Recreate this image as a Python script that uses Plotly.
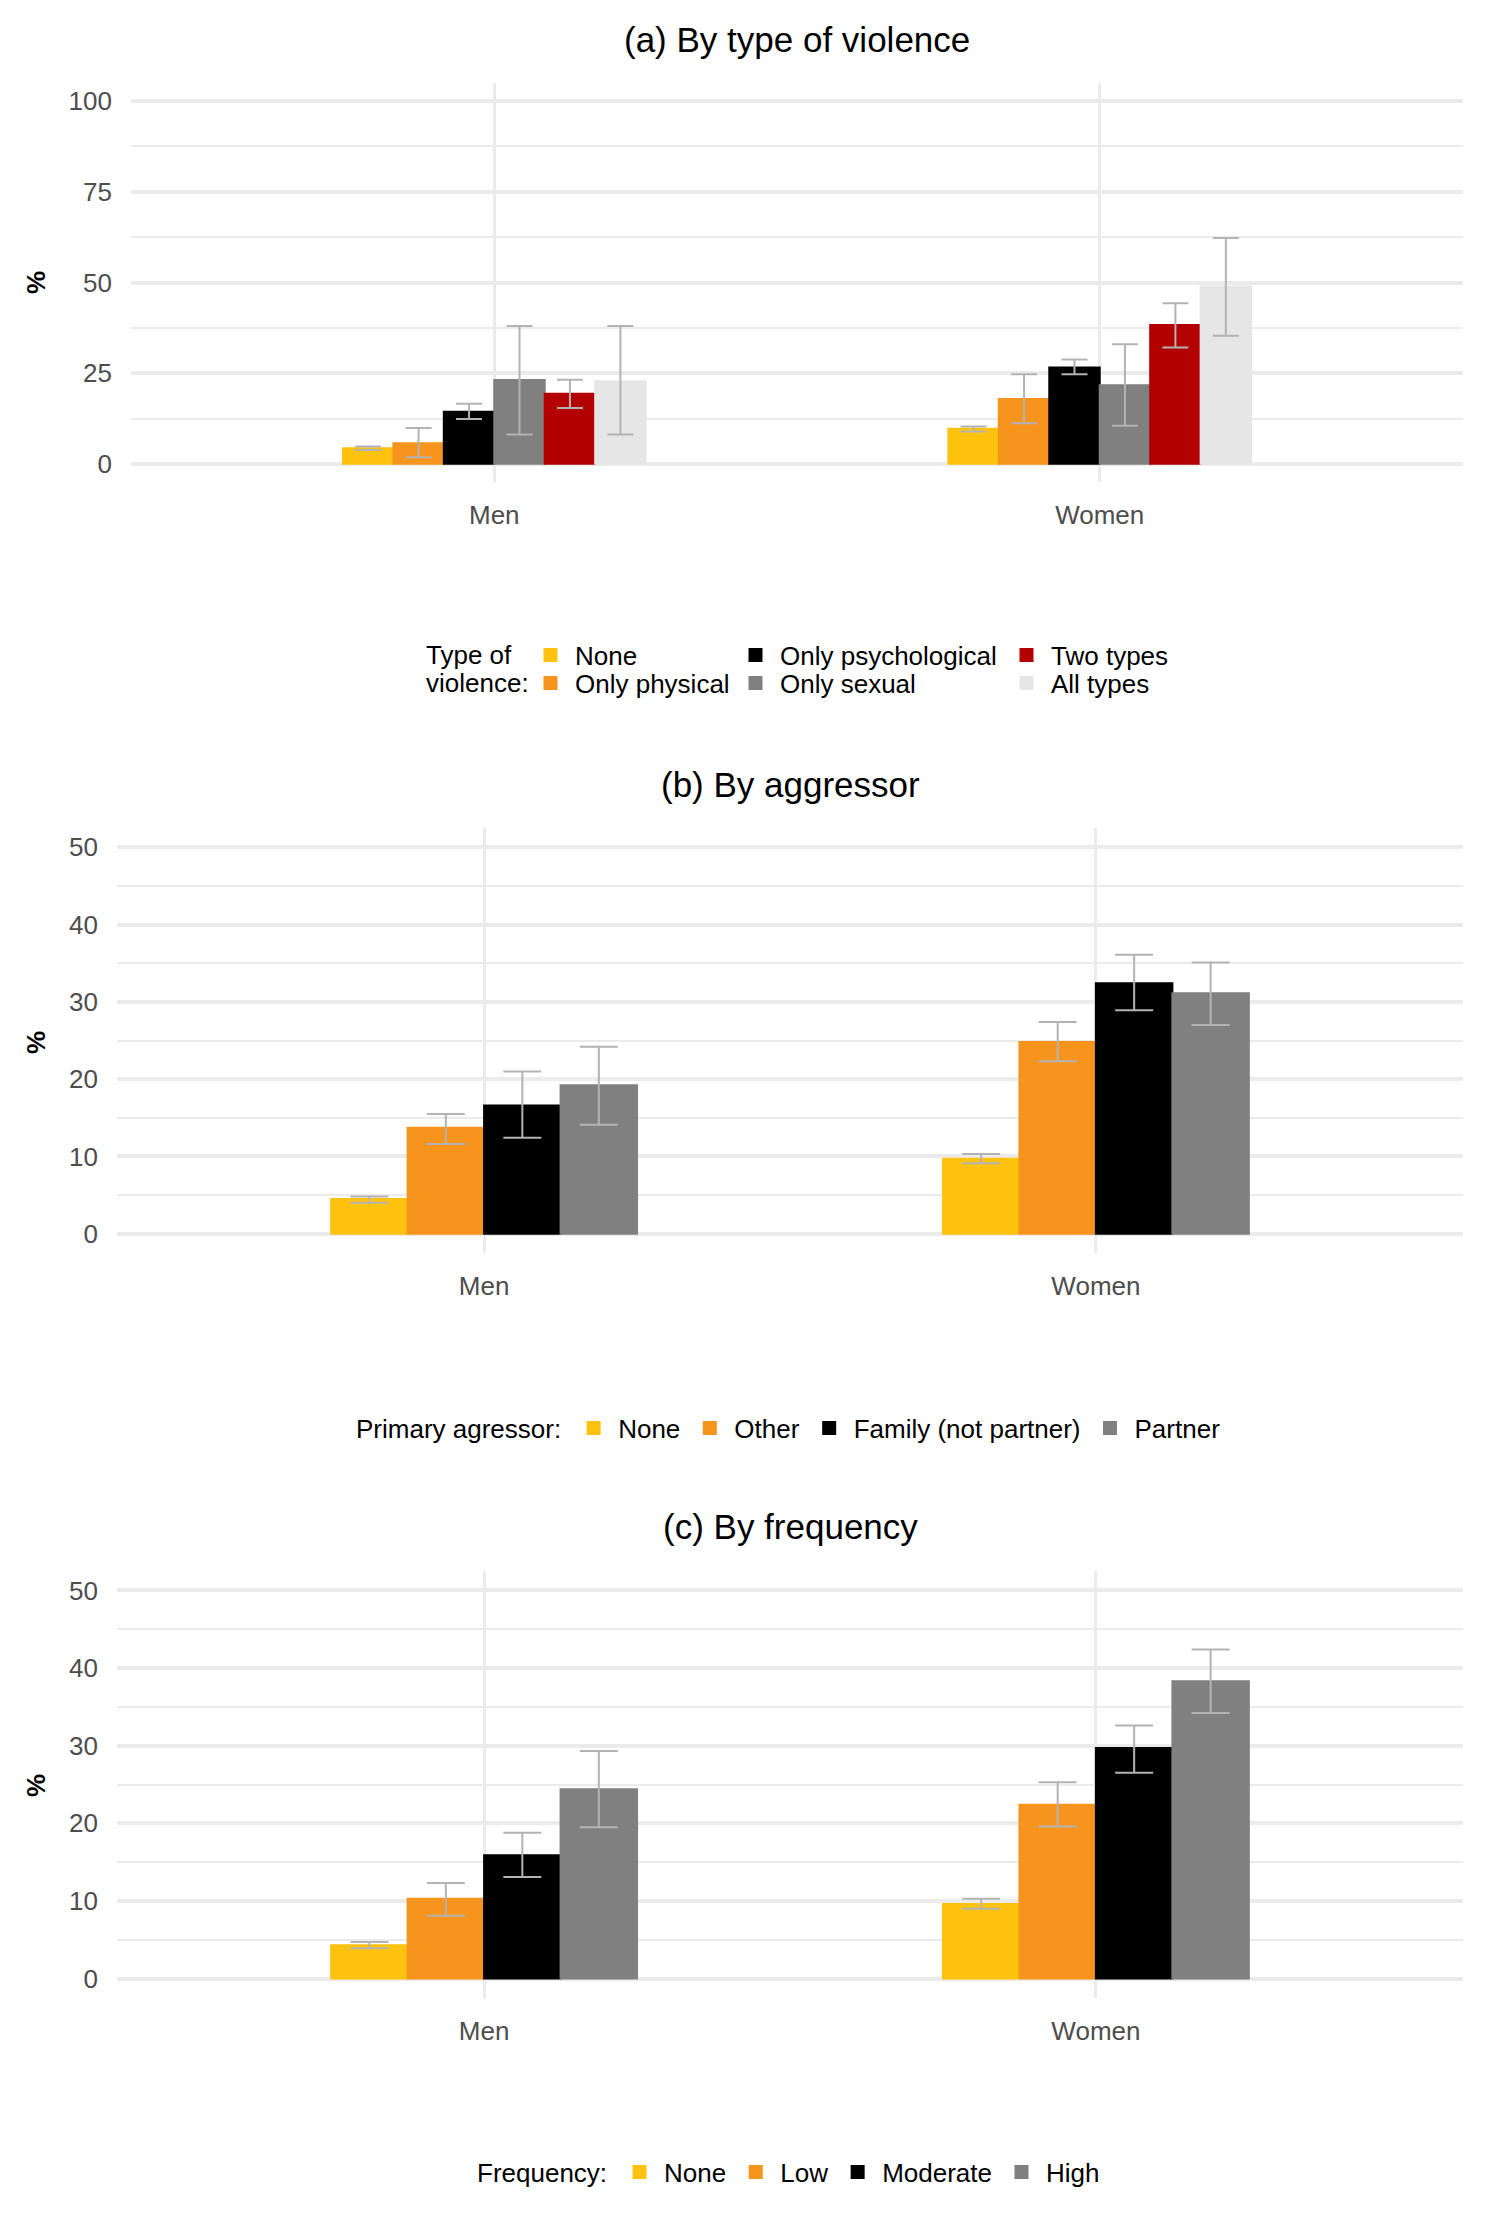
import plotly.graph_objects as go

W, H = 1489, 2232
FONT = "Liberation Sans, Arial, sans-serif"

groups = ["Men", "Women"]

# ---------- Panel (a): by type of violence ----------
a_types = ["None", "Only physical", "Only psychological", "Only sexual", "Two types", "All types"]
a_colors = ["#FFC20E", "#F7941D", "#000000", "#808080", "#B30000", "#E6E6E6"]
a_men_val = [4.3, 5.7, 14.4, 23.1, 19.3, 22.8]
a_men_lo = [3.8, 1.8, 12.4, 8.1, 15.4, 8.1]
a_men_hi = [4.8, 9.9, 16.6, 38.0, 23.2, 38.0]
a_women_val = [9.7, 17.9, 26.6, 21.7, 38.3, 48.9]
a_women_lo = [8.9, 11.2, 24.7, 10.5, 32.1, 35.3]
a_women_hi = [10.3, 24.7, 28.8, 33.0, 44.3, 62.3]
a_yticks = [0, 25, 50, 75, 100]

# ---------- Panel (b): by aggressor ----------
b_types = ["None", "Other", "Family (not partner)", "Partner"]
b_colors = ["#FFC20E", "#F7941D", "#000000", "#808080"]
b_men_val = [4.5, 13.7, 16.6, 19.2]
b_men_lo = [4.0, 11.6, 12.4, 14.1]
b_men_hi = [4.8, 15.5, 21.0, 24.2]
b_women_val = [9.7, 24.8, 32.4, 31.1]
b_women_lo = [9.1, 22.3, 28.9, 27.0]
b_women_hi = [10.3, 27.4, 36.1, 35.1]

# ---------- Panel (c): by frequency ----------
c_types = ["None", "Low", "Moderate", "High"]
c_colors = ["#FFC20E", "#F7941D", "#000000", "#808080"]
c_men_val = [4.3, 10.3, 15.9, 24.4]
c_men_lo = [3.9, 8.1, 13.1, 19.5]
c_men_hi = [4.7, 12.3, 18.8, 29.3]
c_women_val = [9.6, 22.4, 29.7, 38.3]
c_women_lo = [9.0, 19.6, 26.5, 34.2]
c_women_hi = [10.3, 25.3, 32.6, 42.4]
bc_yticks = [0, 10, 20, 30, 40, 50]

ERR = "#B3B3B3"
GRID = "#EBEBEB"
TICK = "#4D4D4D"
ITEMW = 39


def px_x(p):
    return p / W


def px_y(p):
    return 1 - p / H


fig = go.Figure()


def add_panel(types, colors, mv, mlo, mhi, wv, wlo, whi, xa, ya, legends, capw):
    for i, name in enumerate(types):
        vals = [mv[i], wv[i]]
        hi = [mhi[i] - mv[i], whi[i] - wv[i]]
        lo = [mv[i] - mlo[i], wv[i] - wlo[i]]
        fig.add_trace(go.Bar(
            x=groups, y=vals, name=name,
            marker=dict(color=colors[i], line=dict(width=2, color=colors[i])),
            error_y=dict(type="data", symmetric=False, array=hi, arrayminus=lo,
                         color=ERR, thickness=2, width=capw),
            xaxis=xa, yaxis=ya, legend=legends[i], showlegend=True,
            hoverinfo="x+y+name",
        ))


add_panel(a_types, a_colors, a_men_val, a_men_lo, a_men_hi,
          a_women_val, a_women_lo, a_women_hi, "x", "y",
          ["legend", "legend2", "legend3", "legend4", "legend5", "legend6"], 13)
add_panel(b_types, b_colors, b_men_val, b_men_lo, b_men_hi,
          b_women_val, b_women_lo, b_women_hi, "x2", "y2",
          ["legend7"] * 4, 19)
add_panel(c_types, c_colors, c_men_val, c_men_lo, c_men_hi,
          c_women_val, c_women_lo, c_women_hi, "x3", "y3",
          ["legend8"] * 4, 19)

panels = [
    # (x0, x1, y_top, y_bottom, yrange, ticks, minor ticks)
    (131, 1463, 83, 482, [-5, 105], a_yticks, [12.5, 37.5, 62.5, 87.5]),
    (117, 1463, 828, 1253, [-2.5, 52.5], bc_yticks, [5, 15, 25, 35, 45]),
    (117, 1463, 1571, 1998, [-2.5, 52.5], bc_yticks, [5, 15, 25, 35, 45]),
]

layout = dict(
    width=W, height=H, autosize=False,
    margin=dict(l=0, r=0, t=0, b=0),
    paper_bgcolor="white", plot_bgcolor="white",
    font=dict(family=FONT, size=26, color="black"),
    barmode="group", bargap=0.5, bargroupgap=0,
    showlegend=True,
)

for k, (x0, x1, yt, yb, yr, tv, mv) in enumerate(panels):
    sfx = "" if k == 0 else str(k + 1)
    layout["xaxis" + sfx] = dict(
        domain=[px_x(x0), px_x(x1)], anchor="y" + sfx,
        type="category", range=[-0.6, 1.6],
        showgrid=True, gridcolor=GRID, gridwidth=3,
        zeroline=False, showline=False, ticks="",
        tickfont=dict(size=26, color=TICK, family=FONT),
        ticklabelstandoff=15, fixedrange=True,
    )
    layout["yaxis" + sfx] = dict(
        domain=[px_y(yb), px_y(yt)], anchor="x" + sfx,
        range=yr, tickmode="array", tickvals=tv,
        showgrid=True, gridcolor=GRID, gridwidth=3.5,
        minor=dict(tickmode="array", tickvals=mv, showgrid=True,
                   gridcolor=GRID, gridwidth=2, ticks=""),
        zeroline=False, showline=False, ticks="",
        tickfont=dict(size=26, color=TICK, family=FONT),
        ticklabelstandoff=18, fixedrange=True,
    )

# Legends for panel (a): six single-entry legends laid out in 2 rows x 3 columns
a_leg_pos = [(526, 655), (526, 683), (731, 655), (731, 683), (1002, 655), (1002, 683)]
for i, (lx, ly) in enumerate(a_leg_pos):
    key = "legend" if i == 0 else "legend" + str(i + 1)
    layout[key] = dict(
        x=px_x(lx), y=px_y(ly), xanchor="left", yanchor="middle",
        orientation="v", bgcolor="rgba(0,0,0,0)", itemwidth=ITEMW,
        font=dict(size=26, color="black", family=FONT),
        itemclick=False, itemdoubleclick=False, visible=True,
    )

layout["legend7"] = dict(
    x=px_x(790), y=px_y(1428), xanchor="center", yanchor="middle",
    orientation="h", bgcolor="rgba(0,0,0,0)", itemwidth=ITEMW,
    title=dict(text="Primary agressor:", side="left",
               font=dict(size=26, color="black", family=FONT)),
    font=dict(size=26, color="black", family=FONT),
    itemclick=False, itemdoubleclick=False,
)
layout["legend8"] = dict(
    x=px_x(790), y=px_y(2172), xanchor="center", yanchor="middle",
    orientation="h", bgcolor="rgba(0,0,0,0)", itemwidth=ITEMW,
    title=dict(text="Frequency:", side="left",
               font=dict(size=26, color="black", family=FONT)),
    font=dict(size=26, color="black", family=FONT),
    itemclick=False, itemdoubleclick=False,
)

annots = []
for text, cx, cy in [("(a) By type of violence", 797, 40),
                     ("(b) By aggressor", 790, 784),
                     ("(c) By frequency", 790, 1527)]:
    annots.append(dict(text=text, x=px_x(cx), y=px_y(cy), xref="paper", yref="paper",
                       xanchor="center", yanchor="middle", showarrow=False,
                       font=dict(size=35, color="black", family=FONT)))
for yc in [283, 1043, 1786]:
    annots.append(dict(text="<b>%</b>", x=px_x(36), y=px_y(yc), xref="paper", yref="paper",
                       xanchor="center", yanchor="middle", showarrow=False, textangle=-90,
                       font=dict(size=26, color="black", family=FONT)))
annots.append(dict(text="Type of", x=px_x(424), y=px_y(655), xref="paper", yref="paper",
                   xanchor="left", yanchor="middle", showarrow=False,
                   font=dict(size=26, color="black", family=FONT)))
annots.append(dict(text="violence:", x=px_x(424), y=px_y(683), xref="paper", yref="paper",
                   xanchor="left", yanchor="middle", showarrow=False,
                   font=dict(size=26, color="black", family=FONT)))
layout["annotations"] = annots

fig.update_layout(**layout)

fig.write_html("out.html", config={"displayModeBar": False},
               post_script="document.body.style.margin='0';")
